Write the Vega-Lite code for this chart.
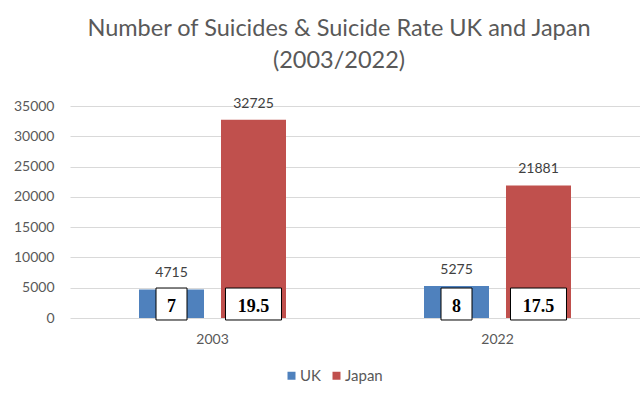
{
  "$schema": "https://vega.github.io/schema/vega-lite/v6.json",
  "width": 570,
  "height": 212,
  "autosize": {"type": "none"},
  "padding": {"left": 70, "top": 106, "right": 0, "bottom": 80},
  "background": "white",
  "config": {
    "view": {"stroke": null},
    "font": "Lato",
    "axis": {"labelFont": "Lato", "labelFontSize": 14, "labelColor": "#595959", "title": null, "domain": false, "ticks": false},
    "axisY": {"grid": true, "gridColor": "#d9d9d9", "gridWidth": 1, "labelPadding": 16, "labelOverlap": false}
  },
  "title": {
    "text": ["Number of Suicides & Suicide Rate UK and Japan", "(2003/2022)"],
    "font": "Lato",
    "fontSize": 23.5,
    "fontWeight": "normal",
    "color": "#595959",
    "lineHeight": 32,
    "anchor": "middle",
    "dx": -16,
    "offset": 24
  },
  "data": {
    "values": [
      {"year": "2003", "country": "UK", "suicides": 4715, "rate": 7},
      {"year": "2003", "country": "Japan", "suicides": 32725, "rate": 19.5},
      {"year": "2022", "country": "UK", "suicides": 5275, "rate": 8},
      {"year": "2022", "country": "Japan", "suicides": 21881, "rate": 17.5}
    ]
  },
  "encoding": {
    "x": {
      "field": "year",
      "type": "nominal",
      "scale": {"paddingInner": 0, "paddingOuter": 0},
      "axis": {"labelAngle": 0, "labelPadding": 14, "grid": false}
    },
    "xOffset": {
      "field": "country",
      "type": "nominal",
      "scale": {"domain": ["UK", "Japan"], "paddingInner": 0.2073, "paddingOuter": 0.8415}
    }
  },
  "layer": [
    {
      "mark": {"type": "bar"},
      "encoding": {
        "y": {
          "field": "suicides",
          "type": "quantitative",
          "scale": {"domain": [0, 35000], "nice": false},
          "axis": {"values": [0, 5000, 10000, 15000, 20000, 25000, 30000, 35000], "format": "d"}
        },
        "color": {
          "field": "country",
          "type": "nominal",
          "scale": {"domain": ["UK", "Japan"], "range": ["#4F81BD", "#C0504D"]},
          "legend": {
            "title": null,
            "orient": "none",
            "direction": "horizontal",
            "legendX": 214,
            "legendY": 262,
            "symbolType": "square",
            "symbolSize": 64,
            "symbolStrokeWidth": 0,
            "labelFont": "Lato",
            "labelFontSize": 15,
            "labelColor": "#595959",
            "labelOffset": 1,
            "columnPadding": 8
          }
        }
      }
    },
    {
      "mark": {"type": "text", "baseline": "alphabetic", "dy": -12, "font": "Lato", "fontSize": 14, "color": "#404040"},
      "encoding": {
        "y": {"field": "suicides", "type": "quantitative", "axis": {"values": [0, 5000, 10000, 15000, 20000, 25000, 30000, 35000], "format": "d"}},
        "text": {"field": "suicides", "type": "quantitative", "format": "d"}
      }
    },
    {
      "transform": [{"filter": "datum.country == 'UK'"}],
      "mark": {"type": "bar", "width": 31, "fill": "white", "stroke": "black", "strokeWidth": 1},
      "encoding": {
        "y": {"datum": 4950, "type": "quantitative", "axis": {"values": [0, 5000, 10000, 15000, 20000, 25000, 30000, 35000], "format": "d"}},
        "y2": {"datum": -330}
      }
    },
    {
      "transform": [{"filter": "datum.country == 'Japan'"}],
      "mark": {"type": "bar", "width": 56, "fill": "white", "stroke": "black", "strokeWidth": 1},
      "encoding": {
        "y": {"datum": 4950, "type": "quantitative", "axis": {"values": [0, 5000, 10000, 15000, 20000, 25000, 30000, 35000], "format": "d"}},
        "y2": {"datum": -330}
      }
    },
    {
      "mark": {"type": "text", "baseline": "alphabetic", "font": "Liberation Serif", "fontWeight": "bold", "fontSize": 18, "color": "black"},
      "encoding": {
        "y": {"datum": 1000, "type": "quantitative", "axis": {"values": [0, 5000, 10000, 15000, 20000, 25000, 30000, 35000], "format": "d"}},
        "text": {"field": "rate", "type": "quantitative"}
      }
    }
  ]
}
